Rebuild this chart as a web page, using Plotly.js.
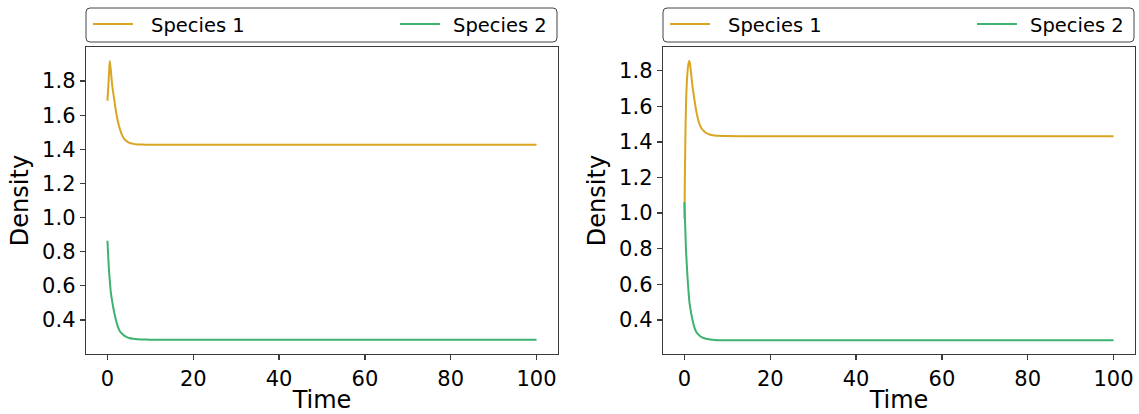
<!DOCTYPE html>
<html>
<head>
<meta charset="utf-8">
<script src="https://cdn.plot.ly/plotly-3.0.1.min.js"></script>
<style>html,body{margin:0;padding:0;background:#fff;}#chart{width:1139px;height:414px;}</style>
</head>
<body>
<div id="chart"></div>
<script>
// ---- data ----
const seriesNames = ["Species 1", "Species 2"];

const timeA = [0, 0.2, 0.4, 0.55, 0.8, 1.0, 1.3, 1.6, 2.0, 2.4, 2.8, 3.2, 3.6, 4.0, 4.5, 5.0, 6.0, 7.0, 8.0, 10, 15, 20, 40, 60, 80, 100];
const sp1A  = [1.685, 1.77, 1.86, 1.918, 1.86, 1.80, 1.74, 1.688, 1.62, 1.568, 1.528, 1.496, 1.474, 1.458, 1.447, 1.439, 1.432, 1.429, 1.428, 1.427, 1.427, 1.427, 1.427, 1.427, 1.427, 1.427];
const sp2A  = [0.864, 0.76, 0.676, 0.63, 0.558, 0.525, 0.48, 0.44, 0.398, 0.362, 0.338, 0.324, 0.315, 0.306, 0.299, 0.294, 0.289, 0.286, 0.285, 0.284, 0.283, 0.283, 0.283, 0.283, 0.283, 0.283];

const timeB = [0, 0.1, 0.2, 0.35, 0.5, 0.7, 0.9, 1.16, 1.4, 1.7, 2.0, 2.4, 2.8, 3.2, 3.6, 4.0, 4.5, 5.0, 6.0, 7.0, 8.0, 10, 15, 20, 40, 60, 80, 100];
const sp1B  = [0.969, 1.20, 1.40, 1.60, 1.71, 1.79, 1.835, 1.856, 1.82, 1.75, 1.69, 1.625, 1.568, 1.525, 1.495, 1.476, 1.462, 1.452, 1.441, 1.437, 1.435, 1.433, 1.432, 1.432, 1.432, 1.432, 1.432, 1.432];
const sp2B  = [1.062, 0.98, 0.91, 0.80, 0.73, 0.645, 0.575, 0.50, 0.46, 0.42, 0.385, 0.352, 0.33, 0.318, 0.309, 0.303, 0.298, 0.294, 0.29, 0.287, 0.286, 0.285, 0.285, 0.285, 0.285, 0.285, 0.285, 0.285];

const xTicks = [0, 20, 40, 60, 80, 100];
const yTicks = [0.4, 0.6, 0.8, 1.0, 1.2, 1.4, 1.6, 1.8];

// ---- styling ----
const W = 1139, H = 414;
const colors = ["#DAA520", "#3CB371"];
const FONT = "DejaVu Sans, Liberation Sans, sans-serif";
const AX = "#3a3a3a";
const px = x => x / W;
const py = y => 1 - y / H;

const panels = [
  {x0: 86, x1: 558, xa: "x", ya: "y", t: timeA, s: [sp1A, sp2A], yr: [0.2, 2.0]},
  {x0: 663, x1: 1135, xa: "x2", ya: "y2", t: timeB, s: [sp1B, sp2B], yr: [0.208, 1.934]}
];
const plotTop = 47, plotBot = 354;

const traces = [];
panels.forEach(p => {
  p.s.forEach((vals, i) => {
    traces.push({
      type: "scatter", mode: "lines", x: p.t, y: vals, name: seriesNames[i],
      xaxis: p.xa, yaxis: p.ya, showlegend: false,
      line: {color: colors[i], width: 2, shape: "spline", smoothing: 0.6}
    });
  });
});

function axisX(p) {
  return {
    domain: [px(p.x0), px(p.x1)], range: [-5, 105], anchor: p.ya,
    tickvals: xTicks, ticktext: xTicks.map(String),
    showline: true, mirror: true, linecolor: AX, linewidth: 1.3,
    ticks: "outside", ticklen: 5, tickwidth: 1.3, tickcolor: AX,
    showgrid: false, zeroline: false,
    tickfont: {family: FONT, size: 21, color: "#000"},
    title: {text: "Time", font: {family: FONT, size: 24, color: "#000"}, standoff: 7}
  };
}
function axisY(p) {
  return {
    domain: [py(plotBot), py(plotTop)], range: p.yr, anchor: p.xa,
    tickvals: yTicks, ticktext: yTicks.map(v => v.toFixed(1)),
    showline: true, mirror: true, linecolor: AX, linewidth: 1.3,
    ticks: "outside", ticklen: 5, tickwidth: 1.3, tickcolor: AX,
    showgrid: false, zeroline: false,
    tickfont: {family: FONT, size: 21, color: "#000"},
    title: {text: "Density", font: {family: FONT, size: 24, color: "#000"}, standoff: 6}
  };
}

// legend boxes drawn above each panel
function roundRect(x0, y0, x1, y1, r) {
  const rx = r / W, ry = r / H;
  const L = px(x0), R = px(x1), T = py(y0), B = py(y1);
  return `M${L + rx},${T} L${R - rx},${T} Q${R},${T} ${R},${T - ry} L${R},${B + ry} Q${R},${B} ${R - rx},${B} L${L + rx},${B} Q${L},${B} ${L},${B + ry} L${L},${T - ry} Q${L},${T} ${L + rx},${T} Z`;
}
const shapes = [], annotations = [];
panels.forEach(p => {
  const off = p.x0 - 86;
  shapes.push({type: "path", xref: "paper", yref: "paper", path: roundRect(p.x0, 8, p.x1 - 1, 42, 4),
    line: {color: "#444", width: 1}, fillcolor: "rgba(255,255,255,0.8)", layer: "above"});
  const items = [{l0: 93, l1: 133, tx: 149, anchor: "left"}, {l0: 400, l1: 440, tx: 549, anchor: "right"}];
  items.forEach((it, i) => {
    shapes.push({type: "line", xref: "paper", yref: "paper",
      x0: px(it.l0 + off), x1: px(it.l1 + off), y0: py(24), y1: py(24),
      line: {color: colors[i], width: 2}});
    annotations.push({xref: "paper", yref: "paper", x: px(it.tx + off), y: py(25),
      xanchor: it.anchor, yanchor: "middle", showarrow: false, text: seriesNames[i],
      font: {family: FONT, size: 19.5, color: "#000"}});
  });
});

const layout = {
  width: W, height: H, autosize: false,
  margin: {l: 0, r: 0, t: 0, b: 0},
  paper_bgcolor: "#fff", plot_bgcolor: "#fff",
  font: {family: FONT, color: "#000"},
  xaxis: axisX(panels[0]), yaxis: axisY(panels[0]),
  xaxis2: axisX(panels[1]), yaxis2: axisY(panels[1]),
  shapes: shapes, annotations: annotations, showlegend: false
};

Plotly.newPlot("chart", traces, layout, {displayModeBar: false, staticPlot: true});
</script>
</body>
</html>
